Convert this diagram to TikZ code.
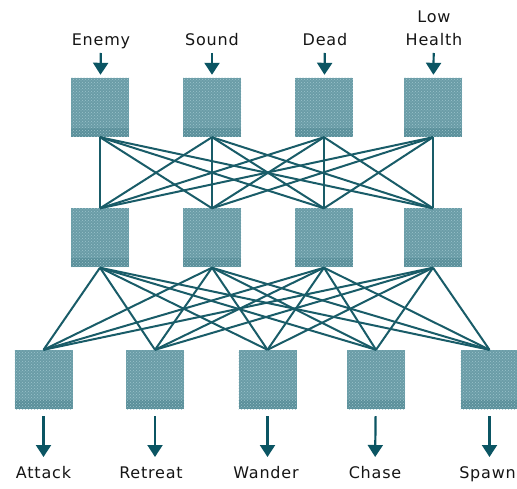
\documentclass[tikz,border=0pt]{standalone}
\usepackage{fontspec}
\setmainfont{DejaVu Sans}[LetterSpace=5]
\usepackage{tikz}
\usetikzlibrary{positioning,arrows.meta,patterns}
\definecolor{NetTeal}{HTML}{6A9CA7}
\definecolor{NetDots}{HTML}{9CC4CB}
\definecolor{NetBand}{HTML}{5A8F9A}
\definecolor{NetLine}{HTML}{195C68}
\definecolor{NetArrow}{HTML}{0B5563}
\definecolor{NetText}{HTML}{151515}

\begin{document}
\begin{tikzpicture}[x=1pt, y=-1pt,
  unit/.style={fill=NetTeal, minimum width=58pt, minimum height=59pt, inner sep=0pt,
    path picture={\fill[NetBand] ([yshift=9pt]path picture bounding box.south west) rectangle (path picture bounding box.south east);},
    postaction={pattern=crosshatch dots, pattern color=NetDots}},
  lbl/.style={font=\fontsize{16}{23}\selectfont, text=NetText, inner sep=0pt, align=center},
  feed/.style={-{Triangle[width=15pt,length=12pt]}, line width=2.2pt, draw=NetArrow},
  wire/.style={line width=2pt, draw=NetLine}]
  \useasboundingbox (0,0) rectangle (517,489);
  % input layer
  \node[unit] (in1) at (100,107.5) {};
  \node[unit] (in2) at (212,107.5) {};
  \node[unit] (in3) at (324,107.5) {};
  \node[unit] (in4) at (433,107.5) {};
  % hidden layer
  \node[unit] (hid1) at (100,238) {};
  \node[unit] (hid2) at (212,238) {};
  \node[unit] (hid3) at (324,238) {};
  \node[unit] (hid4) at (433,238) {};
  % output layer
  \node[unit] (out1) at (43.5,379.5) {};
  \node[unit] (out2) at (155,379.5) {};
  \node[unit] (out3) at (267.5,379.5) {};
  \node[unit] (out4) at (376,379.5) {};
  \node[unit] (out5) at (489.5,379.5) {};
  % weights between the layers
  \foreach \a in {1,...,4} \foreach \b in {1,...,4} \draw[wire] (in\a.south) -- (hid\b.north);
  \foreach \a in {1,...,4} \foreach \b in {1,...,5} \draw[wire] (hid\a.south) -- (out\b.north);
  % inputs
  \node[lbl, text depth=0pt, anchor=south] (enemy) at (101,46) {Enemy};
  \node[lbl, text depth=0pt, anchor=south] (sound) at (212,46) {Sound};
  \node[lbl, text depth=0pt, anchor=south] (dead) at (325,46) {Dead};
  \node[lbl, text depth=0pt, anchor=south] (lowhealth) at (434,46) {Low\\Health};
  \draw[feed, shorten <=7pt, shorten >=3pt] (enemy) -- (in1);
  \draw[feed, shorten <=7pt, shorten >=3pt] (sound) -- (in2);
  \draw[feed, shorten <=7pt, shorten >=3pt] (dead) -- (in3);
  \draw[feed, shorten <=7pt, shorten >=3pt] (lowhealth) -- (in4);
  % outputs
  \node[lbl, text height=12pt, anchor=north] (attack) at (43.5,466) {Attack};
  \node[lbl, text height=12pt, anchor=north] (retreat) at (151,466) {Retreat};
  \node[lbl, text height=12pt, anchor=north] (wander) at (266,466) {Wander};
  \node[lbl, text height=12pt, anchor=north] (chase) at (375,466) {Chase};
  \node[lbl, text height=12pt, anchor=north east] (spawn) at (516,466) {Spawn};
  \draw[feed, shorten <=7pt, shorten >=9pt] (out1) -- (attack);
  \draw[feed, shorten <=7pt, shorten >=9pt] (out2.south) -- (out2.south |- retreat.north);
  \draw[feed, shorten <=7pt, shorten >=9pt] (out3.south) -- (out3.south |- wander.north);
  \draw[feed, shorten <=7pt, shorten >=9pt] (out4) -- (chase);
  \draw[feed, shorten <=7pt, shorten >=9pt] (out5.south) -- (out5.south |- spawn.north);
\end{tikzpicture}
\end{document}
